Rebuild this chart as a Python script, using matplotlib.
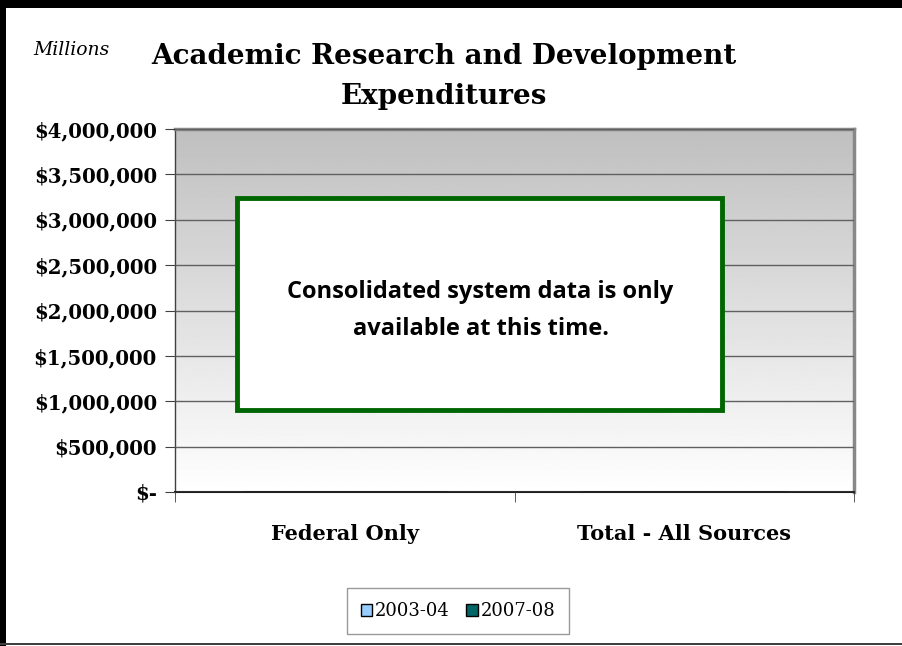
import matplotlib
matplotlib.use("Agg")
import matplotlib.pyplot as plt
import numpy as np
from matplotlib.patches import Rectangle
from matplotlib.ticker import FuncFormatter

# data (no values were published for the individual campuses)
categories = ["Federal Only", "Total - All Sources"]
series_names = ["2003-04", "2007-08"]
values_2003_04 = [0, 0]
values_2007_08 = [0, 0]
series_colors = ["#99ccff", "#006666"]
y_ticks = [0, 500000, 1000000, 1500000, 2000000, 2500000, 3000000, 3500000, 4000000]

SERIF = ["DejaVu Serif"]

fig = plt.figure(figsize=(9.03, 6.46), dpi=100)
ax = fig.add_axes([175 / 903, 1 - 492 / 646, 679 / 903, 363 / 646])

# gradient plot-area background (grey at top fading to white)
grad = np.linspace(1.0, 0.75, 256).reshape(-1, 1)
ax.imshow(grad, cmap="gray", vmin=0, vmax=1, aspect="auto",
          extent=[0, len(categories), 0, 4000000], origin="lower", zorder=0)

x = np.arange(len(categories)) + 0.5
w = 0.3
for i, (name, vals) in enumerate(zip(series_names, [values_2003_04, values_2007_08])):
    ax.bar(x + (i - 0.5) * w, vals, w, color=series_colors[i], edgecolor="black",
           linewidth=1, label=name, zorder=3)

ax.set_xlim(0, len(categories))
ax.set_ylim(0, 4000000)
ax.set_yticks(y_ticks)
ax.yaxis.set_major_formatter(FuncFormatter(lambda v, p: "$-" if v == 0 else "${:,.0f}".format(v)))
ax.grid(axis="y", color="#606060", linewidth=1, zorder=1)
ax.set_axisbelow(False)

ax.set_xticks(x)
ax.set_xticklabels(categories, fontsize=15, fontweight="bold", family=SERIF)
ax.set_xticks([0, 1, 2], minor=True)
ax.tick_params(axis="x", which="major", length=0, pad=23)
ax.tick_params(axis="x", which="minor", length=7, color="#404040")
ax.tick_params(axis="y", length=7, color="#404040", pad=6)
for lab in ax.get_yticklabels():
    lab.set_fontsize(14.2)
    lab.set_fontweight("bold")
    lab.set_family(SERIF)

for s in ["top", "right"]:
    ax.spines[s].set_color("#888888")
    ax.spines[s].set_linewidth(2.5)
ax.spines["bottom"].set_color("#202020")
ax.spines["bottom"].set_linewidth(1.5)
ax.spines["left"].set_color("#404040")
ax.spines["left"].set_linewidth(1)

# notice box
ax.add_patch(Rectangle((62 / 679, 82 / 363), 485 / 679, 212 / 363, transform=ax.transAxes,
                       facecolor="white", edgecolor="#006600", linewidth=3.5, zorder=5))
ax.text(0.450, 0.500, "Consolidated system data is only\navailable at this time.",
        transform=ax.transAxes, ha="center", va="center", fontsize=17, fontweight="bold",
        family=["Open Sans", "DejaVu Sans"], linespacing=1.75, zorder=6)

# titles
fig.text(444 / 903, 1 - 57 / 646, "Academic Research and Development", ha="center", va="center",
         fontsize=20, fontweight="bold", family=SERIF)
fig.text(444 / 903, 1 - 96 / 646, "Expenditures", ha="center", va="center",
         fontsize=20, fontweight="bold", family=SERIF)
fig.text(33 / 903, 1 - 50 / 646, "Millions", ha="left", va="center",
         fontsize=13.5, style="italic", family=SERIF)

leg = fig.legend(loc="center", bbox_to_anchor=(458 / 903, 1 - 611 / 646), ncol=2,
                 prop={"family": SERIF, "size": 13}, frameon=True, fancybox=False,
                 handlelength=0.65, handleheight=0.65, handletextpad=0.15, columnspacing=0.9,
                 borderpad=0.75)
leg.get_frame().set_edgecolor("#808080")
leg.get_frame().set_linewidth(1)

# outer frame
fig.add_artist(Rectangle((0, 1 - 8 / 646), 1, 8 / 646, transform=fig.transFigure,
                         facecolor="black", edgecolor="none"))
fig.add_artist(Rectangle((0, 0), 6 / 903, 1, transform=fig.transFigure,
                         facecolor="black", edgecolor="none"))
fig.add_artist(Rectangle((0, 1 / 646), 1, 2 / 646, transform=fig.transFigure,
                         facecolor="#404040", edgecolor="none"))

fig.savefig("out.png", dpi=100)
